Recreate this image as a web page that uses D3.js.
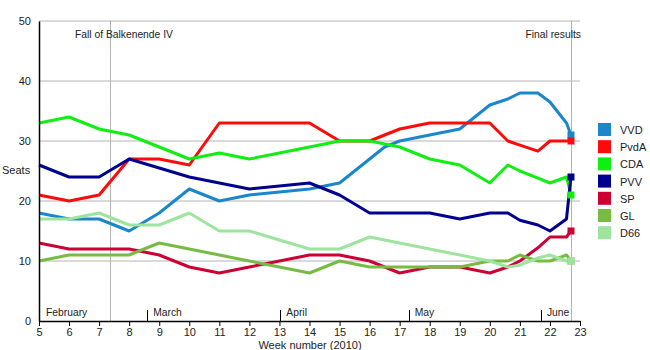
<!DOCTYPE html>
<html><head><meta charset="utf-8">
<script src="https://cdn.jsdelivr.net/npm/d3@7"></script>
<style>body{margin:0;background:#fff}svg{font-family:"Liberation Sans",Arial,sans-serif}</style>
</head><body><svg id="c" width="650" height="350"></svg>
<script>
const weeks = [5,6,7,8,9,10,11,12,13,14,15,16,16.5,17,18,19,20,20.6,21,21.6,22,22.55];
const finalWeek = 22.7;
const parties = ["VVD","PvdA","CDA","PVV","SP","GL","D66"];
const colors = ["#1a87cc","#ff0a0a","#11ee11","#000090","#cc0033","#77bb44","#9ee49e"];
const vvd  = [18,17,17,15,18,22,20,21,21.5,22,23,27,29,30,31,32,36,37,38,38,36.5,33];
const pvda = [21,20,21,27,27,26,33,33,33,33,30,30,31,32,33,33,33,30,29.3,28.3,30,30];
const cda  = [33,34,32,31,29,27,28,27,28,29,30,30,29.5,29,27,26,23,26,25,23.8,23,24];
const pvv  = [26,24,24,27,25.5,24,23,22,22.5,23,21,18,18,18,18,17,18,18,16.8,16,15,17];
const sp   = [13,12,12,12,11,9,8,9,10,11,11,10,9,8,9,9,8,9,10,12.2,14,14];
const gl   = [10,11,11,11,13,12,11,10,9,8,10,9,9,9,9,9,10,10,11,10,10,11];
const d66  = [17,17,18,16,16,18,15,15,13.5,12,12,14,13.5,13,12,11,10,9,9.3,10.5,11,10];
const finals = [31,30,21,24,15,10,10];
const seriesValues = [vvd,pvda,cda,pvv,sp,gl,d66];
const xTicks = d3.range(5,24);
const yTicks = [0,10,20,30,40,50];
const months = ["February","March","April","May","June"];
const monthWeeks = [5,8.6,13.03,17.3,21.7];
const events = ["Fall of Balkenende IV","Final results"];
const eventWeeks = [7.36,22.7];

const svg = d3.select("#c");
const x = d3.scaleLinear().domain([5,23]).range([39,580]);
const y = d3.scaleLinear().domain([0,50]).range([321,21]);

svg.append("g").selectAll("line").data(yTicks.filter(d=>d>0)).join("line")
  .attr("x1",x(5)).attr("x2",x(23)).attr("y1",d=>y(d)).attr("y2",d=>y(d))
  .attr("stroke","#b4b4b4").attr("stroke-width",1);
svg.append("g").selectAll("line").data(eventWeeks).join("line")
  .attr("x1",d=>Math.round(x(d))+0.5).attr("x2",d=>Math.round(x(d))+0.5).attr("y1",y(50)).attr("y2",y(0))
  .attr("stroke","#b4b4b4").attr("stroke-width",1);
svg.append("text").attr("x",75).attr("y",38).attr("font-size",10.3).attr("fill","#222").text(events[0]);
svg.append("text").attr("x",581).attr("y",38).attr("font-size",10.3).attr("fill","#222").attr("text-anchor","end").text(events[1]);

const mg = svg.append("g");
monthWeeks.forEach((w,i)=>{
  if(i>0) mg.append("line").attr("x1",Math.round(x(w))+0.5).attr("x2",Math.round(x(w))+0.5)
    .attr("y1",y(0)-11).attr("y2",y(0)).attr("stroke","#000").attr("stroke-width",1);
  mg.append("text").attr("x",i===0?46:x(w)+6).attr("y",y(0)-5).attr("font-size",10.3).attr("fill","#222").text(months[i]);
});

const line = d3.line().x(d=>x(d[0])).y(d=>y(d[1]));
parties.forEach((p,i)=>{
  const pts = weeks.map((w,j)=>[w,seriesValues[i][j]]);
  pts.push([finalWeek,finals[i]]);
  svg.append("path").datum(pts).attr("d",line).attr("fill","none")
    .attr("stroke",colors[i]).attr("stroke-width",3).attr("stroke-linejoin","round");
});
parties.forEach((p,i)=>{
  svg.append("rect").attr("x",x(finalWeek)-3.5).attr("y",y(finals[i])-3.5).attr("width",7).attr("height",7).attr("fill",colors[i]);
});

const xa = svg.append("g").attr("transform",`translate(0,${y(0)})`)
  .call(d3.axisBottom(x).tickValues(xTicks).tickFormat(d3.format("d")).tickSize(5).tickSizeOuter(0));
xa.select(".domain").attr("stroke","#000").attr("stroke-width",1.5);
xa.selectAll("text").attr("font-size",11).attr("fill","#222").attr("font-family","Liberation Sans, Arial, sans-serif").attr("dy","0.6em");
const ya = svg.append("g").attr("transform",`translate(${x(5)},0)`)
  .call(d3.axisLeft(y).tickValues(yTicks).tickSize(0).tickPadding(8));
ya.select(".domain").attr("stroke","#000").attr("stroke-width",1.5);
ya.selectAll("text").attr("font-size",11).attr("fill","#222").attr("font-family","Liberation Sans, Arial, sans-serif");

svg.append("text").attr("x",2).attr("y",174).attr("font-size",11).attr("fill","#222").text("Seats");
svg.append("text").attr("x",310).attr("y",349).attr("font-size",11).attr("fill","#222").attr("text-anchor","middle").text("Week number (2010)");

const lg = svg.append("g");
parties.forEach((p,i)=>{
  const yy = 123 + i*17.2;
  lg.append("rect").attr("x",598).attr("y",yy).attr("width",13).attr("height",13).attr("fill",colors[i]);
  lg.append("text").attr("x",620).attr("y",yy+11).attr("font-size",11).attr("fill","#222").text(p);
});
</script></body></html>
